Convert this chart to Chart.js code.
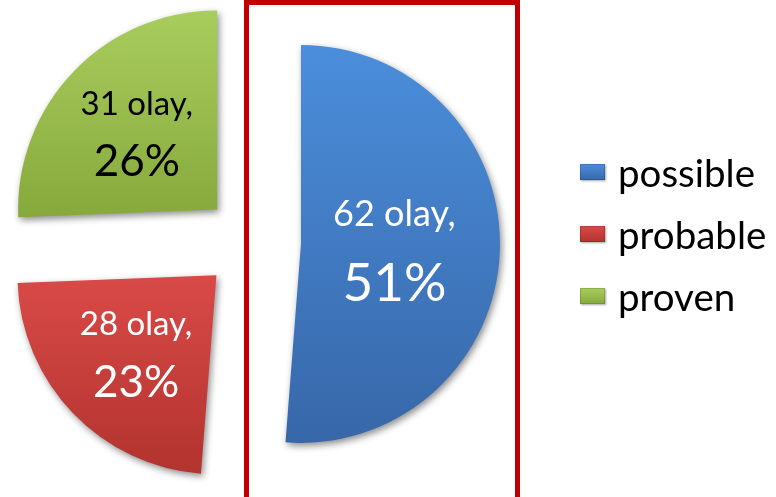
<!DOCTYPE html>
<html>
<head>
<meta charset="utf-8">
<title>olay</title>
<script src="https://cdn.jsdelivr.net/npm/chart.js@4.4.1/dist/chart.umd.min.js"></script>
<style>
  html, body { margin: 0; padding: 0; background: #fff; overflow: hidden; }
  #wrap { position: relative; width: 776px; height: 497px; }
  #pie { position: absolute; left: 0; top: 0; }
  #frame { position: absolute; left: 244px; top: 0; width: 266px; height: 520px; border: 5px solid #c00000; }
  #legend { position: absolute; left: 580px; top: 141px; font-family: Lato, sans-serif; font-size: 38.5px; color: #000; }
  .item { display: flex; align-items: center; height: 62px; }
  .swatch { width: 25px; height: 16px; margin-right: 13px; box-shadow: inset 0 0 0 1px rgba(0,0,0,0.15), 1px 1px 2px rgba(0,0,0,0.35); }
</style>
</head>
<body>
<div id="wrap">
  <canvas id="pie" width="776" height="497"></canvas>
  <div id="frame"></div>
  <div id="legend"></div>
</div>
<script>
const labels = ['possible', 'probable', 'proven'];
const counts = [62, 28, 31];
const unit = 'olay';

// look of the slices
const topColors = ['#4b8edb', '#d94a47', '#a9cd5d'];
const bottomColors = ['#3767a9', '#b2332f', '#87a93c'];
const textColors = ['#ffffff', '#ffffff', '#000000'];
const explode = [50, 48, 47];
const fontSizes = [[36, 53], [33, 44], [33, 44]];
const RADIUS = 199;

const total = counts.reduce((a, b) => a + b, 0);
const TAU = Math.PI * 2;

function sliceAngles(i) {
  let start = -Math.PI / 2;
  for (let k = 0; k < i; k++) start += counts[k] / total * TAU;
  return [start, start + counts[i] / total * TAU];
}

// vertical gradient spanning just the slice's own height
function fillFor(context) {
  const chart = context.chart;
  const area = chart.chartArea;
  const i = context.dataIndex;
  if (!area) return topColors[i];
  const [a0, a1] = sliceAngles(i);
  const mid = (a0 + a1) / 2;
  const cy = (area.top + area.bottom) / 2 + Math.sin(mid) * explode[i];
  let lo = 0, hi = 0;
  for (let a = a0; a <= a1; a += 0.02) {
    lo = Math.min(lo, Math.sin(a));
    hi = Math.max(hi, Math.sin(a));
  }
  const g = chart.ctx.createLinearGradient(0, cy + lo * RADIUS, 0, cy + hi * RADIUS);
  g.addColorStop(0, topColors[i]);
  g.addColorStop(1, bottomColors[i]);
  return g;
}

// pull slices apart without growing them (built-in offset enlarges the big slice)
const explodePlugin = {
  id: 'explode',
  afterDatasetUpdate(chart, args) {
    chart.getDatasetMeta(args.index).data.forEach((arc, i) => {
      const mid = (arc.startAngle + arc.endAngle) / 2;
      arc.x += Math.cos(mid) * explode[i];
      arc.y += Math.sin(mid) * explode[i];
    });
  },
  beforeDatasetDraw(chart) {
    const ctx = chart.ctx;
    ctx.save();
    ctx.shadowColor = 'rgba(0,0,0,0.45)';
    ctx.shadowBlur = 7;
    ctx.shadowOffsetX = 2;
    ctx.shadowOffsetY = 3;
  },
  afterDatasetDraw(chart) {
    chart.ctx.restore();
  }
};

const labelPlugin = {
  id: 'sliceLabels',
  afterDatasetsDraw(chart) {
    const ctx = chart.ctx;
    chart.getDatasetMeta(0).data.forEach((arc, i) => {
      const mid = (arc.startAngle + arc.endAngle) / 2;
      const r = arc.outerRadius * (arc.circumference > Math.PI ? 0.47 : 0.56);
      const x = arc.x + Math.cos(mid) * r;
      const y = arc.y + Math.sin(mid) * r;
      const [small, big] = fontSizes[i];
      const pct = Math.round(counts[i] / total * 100);
      ctx.save();
      ctx.fillStyle = textColors[i];
      ctx.textAlign = 'center';
      ctx.textBaseline = 'alphabetic';
      ctx.font = small + 'px Lato';
      ctx.fillText(counts[i] + ' ' + unit + ',', x, y - 0.4 * big);
      ctx.font = big + 'px Lato';
      ctx.fillText(pct + '%', x, y + big);
      ctx.restore();
    });
  }
};

new Chart(document.getElementById('pie'), {
  type: 'pie',
  data: {
    labels: labels,
    datasets: [{
      data: counts,
      backgroundColor: fillFor,
      borderWidth: 0,
      radius: RADIUS
    }]
  },
  options: {
    responsive: false,
    animation: false,
    events: [],
    layout: { padding: { left: 0, top: 0, right: 274, bottom: 13 } },
    plugins: {
      legend: { display: false },
      tooltip: { enabled: false }
    }
  },
  plugins: [explodePlugin, labelPlugin]
});

const legend = document.getElementById('legend');
labels.forEach((name, i) => {
  const row = document.createElement('div');
  row.className = 'item';
  const sw = document.createElement('span');
  sw.className = 'swatch';
  sw.style.background = 'linear-gradient(' + topColors[i] + ', ' + bottomColors[i] + ')';
  const tx = document.createElement('span');
  tx.textContent = name;
  row.append(sw, tx);
  legend.append(row);
});
</script>
</body>
</html>
